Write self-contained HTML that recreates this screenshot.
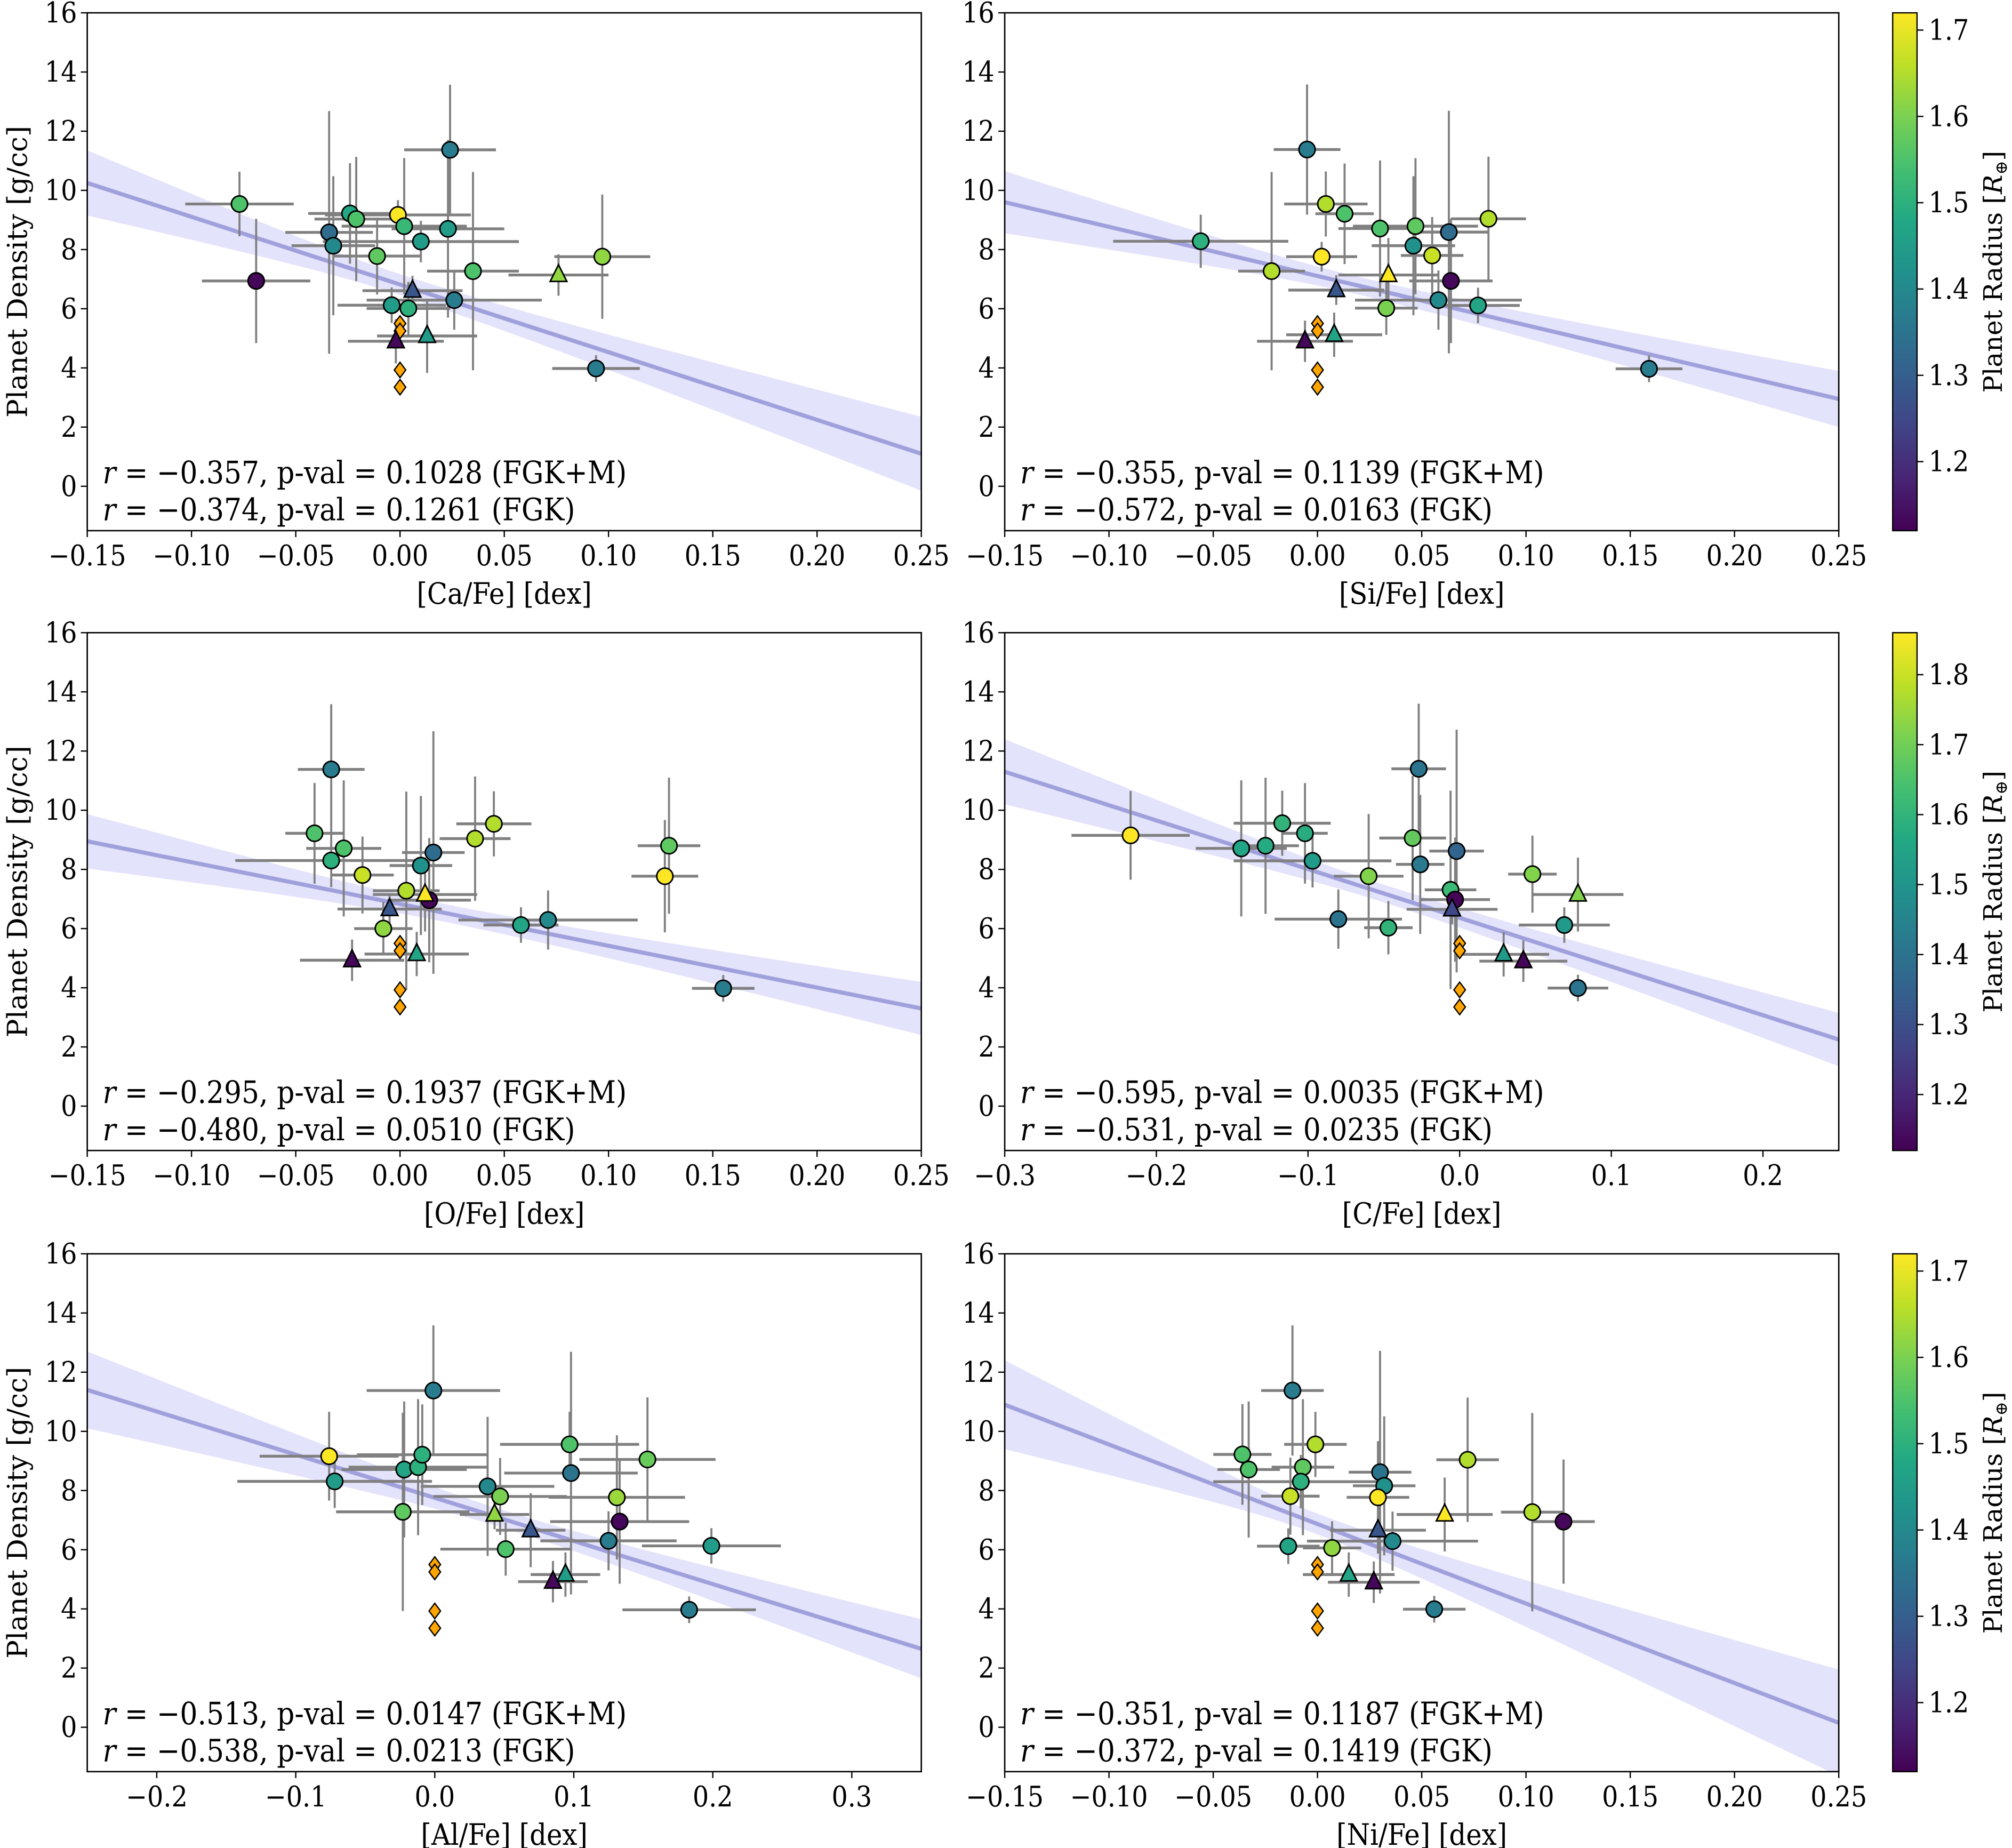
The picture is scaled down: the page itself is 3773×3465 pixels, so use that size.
<!DOCTYPE html>
<html><head><meta charset="utf-8"><style>html,body{margin:0;padding:0;background:#fff}svg{display:block}</style></head>
<body>
<svg id="fig" xmlns="http://www.w3.org/2000/svg" width="3773" height="3465" viewBox="0 0 1568 1440">
<rect x="0" y="0" width="1568" height="1440" fill="#fff"/>
</svg>
<script>
// ---------- DATA ----------
const caX=[-0.077,-0.069,-0.034,-0.032,-0.024,-0.021,-0.011,-0.001,0.002,0.010,0.023,0.024,0.026,0.035,-0.004,0.004,0.097,0.094];
const caY=[9.54,6.94,8.58,8.13,9.22,9.03,7.78,9.17,8.79,8.27,8.70,11.37,6.29,7.27,6.12,6.01,7.76,3.98];
const caXe=[0.026,0.026,0.021,0.02,0.02,0.02,0.021,0.035,0.03,0.047,0.027,0.022,0.042,0.022,0.026,0.02,0.023,0.021];
const caYe=[1.09,2.1,4.1,2.35,1.7,2.1,1.3,0.5,2.3,0.7,3.0,2.2,1.0,3.35,0.6,0.9,2.1,0.45];
const caR=[1.55,1.13,1.33,1.40,1.48,1.55,1.57,1.72,1.52,1.45,1.45,1.37,1.37,1.55,1.45,1.5,1.62,1.37];
const caTX=[0.006,0.013,-0.002,0.076], caTY=[6.61,5.08,4.9,7.14], caTXe=[0.024,0.024,0.023,0.024], caTR=[1.28,1.45,1.13,1.62];

const siX=[-0.005,0.004,0.013,0.03,0.047,0.063,0.082,0.046,0.055,-0.056,0.002,-0.022,0.064,0.058,0.077,0.033,0.159];
const siY=[11.38,9.54,9.21,8.71,8.79,8.59,9.04,8.13,7.8,8.28,7.76,7.27,6.94,6.29,6.11,6.02,3.97];
const siXe=[0.016,0.02,0.014,0.02,0.03,0.019,0.018,0.02,0.015,0.042,0.017,0.016,0.02,0.04,0.02,0.015,0.016];
const siYe=[2.2,1.1,1.7,2.3,2.3,4.1,2.1,2.35,1.3,0.9,0.5,3.35,2.1,1.0,0.6,0.9,0.45];
const siR=[1.37,1.65,1.55,1.55,1.57,1.33,1.65,1.42,1.67,1.5,1.72,1.65,1.13,1.40,1.47,1.6,1.37];
const siTX=[0.009,0.034,0.008,-0.006], siTY=[6.63,7.14,5.12,4.9], siTXe=[0.023,0.024,0.023,0.023], siTR=[1.28,1.72,1.47,1.13];

const oX=[-0.033,-0.041,-0.027,-0.033,-0.018,0.045,0.036,0.016,0.010,0.003,0.014,-0.008,0.058,0.071,0.129,0.127,0.155];
const oY=[11.38,9.22,8.71,8.3,7.81,9.54,9.04,8.57,8.13,7.28,6.96,6.0,6.12,6.29,8.8,7.77,3.98];
const oXe=[0.016,0.014,0.018,0.046,0.015,0.018,0.017,0.015,0.015,0.016,0.02,0.014,0.018,0.043,0.015,0.016,0.015];
const oYe=[2.2,1.7,2.3,0.9,1.3,1.1,2.1,4.1,2.35,3.35,2.1,0.9,0.6,1.0,2.3,1.9,0.45];
const oR=[1.37,1.55,1.55,1.5,1.67,1.65,1.65,1.33,1.42,1.65,1.13,1.62,1.47,1.40,1.57,1.72,1.37];
const oTX=[-0.005,0.012,0.008,-0.023], oTY=[6.66,7.15,5.14,4.93], oTXe=[0.025,0.025,0.025,0.025], oTR=[1.28,1.72,1.47,1.13];

const cX=[-0.217,-0.144,-0.128,-0.117,-0.102,-0.097,-0.06,-0.08,-0.047,-0.031,-0.027,-0.026,-0.002,-0.006,-0.003,0.048,0.069,0.078];
const cY=[9.15,8.71,8.8,9.56,9.22,8.29,7.77,6.32,6.03,9.06,11.4,8.17,8.62,7.31,6.98,7.84,6.12,3.99];
const cXe=[0.039,0.03,0.022,0.032,0.015,0.052,0.023,0.042,0.016,0.022,0.018,0.016,0.018,0.017,0.023,0.016,0.03,0.02];
const cYe=[1.5,2.3,2.3,1.1,1.7,0.9,2.1,1.0,0.9,2.1,2.2,2.35,4.1,3.35,2.1,1.3,0.6,0.45];
const cR=[1.86,1.55,1.57,1.6,1.58,1.52,1.72,1.40,1.6,1.68,1.4,1.42,1.36,1.62,1.13,1.72,1.52,1.40];
const cTX=[-0.005,0.078,0.029,0.042], cTY=[6.65,7.15,5.13,4.9], cTXe=[0.03,0.03,0.03,0.029], cTR=[1.28,1.72,1.52,1.13];

const alX=[-0.076,-0.072,-0.022,-0.012,-0.009,-0.023,-0.001,0.038,0.047,0.051,0.097,0.098,0.153,0.131,0.133,0.125,0.199,0.183];
const alY=[9.16,8.31,8.71,8.79,9.21,7.28,11.38,8.14,7.8,6.02,9.56,8.59,9.05,7.77,6.95,6.3,6.13,3.97];
const alXe=[0.05,0.07,0.045,0.05,0.047,0.048,0.048,0.048,0.048,0.047,0.05,0.048,0.049,0.049,0.05,0.049,0.05,0.048];
const alYe=[1.5,0.9,2.3,2.3,1.7,3.35,2.2,2.35,1.3,0.9,1.1,4.1,2.1,2.1,2.1,1.0,0.6,0.45];
const alR=[1.72,1.45,1.47,1.5,1.5,1.57,1.37,1.40,1.6,1.55,1.55,1.35,1.58,1.63,1.13,1.37,1.45,1.37];
const alTX=[0.043,0.069,0.094,0.085], alTY=[7.19,6.66,5.16,4.92], alTXe=[0.025,0.025,0.025,0.025], alTR=[1.62,1.28,1.45,1.13];

const niX=[-0.012,-0.001,-0.036,-0.033,-0.007,-0.008,-0.013,0.03,0.032,0.029,0.072,0.103,0.118,0.036,-0.014,0.007,0.056];
const niY=[11.38,9.56,9.22,8.71,8.79,8.3,7.81,8.62,8.16,7.77,9.04,7.27,6.95,6.29,6.12,6.06,3.99];
const niXe=[0.015,0.015,0.014,0.015,0.015,0.042,0.014,0.015,0.015,0.015,0.015,0.015,0.015,0.041,0.015,0.014,0.015];
const niYe=[2.2,1.1,1.7,2.3,2.3,0.9,1.3,4.1,2.35,1.9,2.1,3.35,2.1,1.0,0.6,0.9,0.45];
const niR=[1.37,1.65,1.55,1.55,1.57,1.5,1.67,1.35,1.42,1.72,1.65,1.65,1.13,1.40,1.47,1.62,1.37];
const niTX=[0.029,0.061,0.015,0.027], niTY=[6.66,7.19,5.16,4.9], niTXe=[0.023,0.023,0.022,0.022], niTR=[1.28,1.72,1.47,1.13];

const triYe=[0.5,1.25,0.75,0.7];
const diamY=[5.5,5.25,3.93,3.35];
const xTicksA=[-0.15,-0.10,-0.05,0.00,0.05,0.10,0.15,0.20,0.25];
const xTicksC=[-0.3,-0.2,-0.1,0.0,0.1,0.2];
const xTicksAl=[-0.2,-0.1,0.0,0.1,0.2,0.3];
const yTicks=[0,2,4,6,8,10,12,14,16];
const cbTicksA=[1.2,1.3,1.4,1.5,1.6,1.7];
const cbTicksB=[1.2,1.3,1.4,1.5,1.6,1.7,1.8];

// ---------- RENDER ----------
const NS="http://www.w3.org/2000/svg";
const svg=document.getElementById('fig');
function mk(tag,attrs,parent){const e=document.createElementNS(NS,tag);for(const k in attrs)e.setAttribute(k,attrs[k]);(parent||svg).appendChild(e);return e;}
const vir=["#440154","#482475","#414487","#355f8d","#2a788e","#21918c","#22a884","#44bf70","#7ad151","#bddf26","#fde725"];
function hex(h){return [1,3,5].map(i=>parseInt(h.substr(i,2),16));}
function viridis(t){t=Math.max(0,Math.min(1,t));const f=t*10,i=Math.min(9,Math.floor(f)),u=f-i;const a=hex(vir[i]),b=hex(vir[i+1]);return 'rgb('+a.map((v,k)=>Math.round(v+(b[k]-v)*u)).join(',')+')';}

const colL=68,colR=783,W=650;
const rowsTop=[10,493,977],H=403.5;
const panels=[
 {name:'ca',lab:'[Ca/Fe] [dex]',x0:colL,y0:rowsTop[0],xl:[-0.15,0.25],xt:xTicksA,dec:2,X:caX,Y:caY,Xe:caXe,Ye:caYe,R:caR,TX:caTX,TY:caTY,TXe:caTXe,TR:caTR,fit:[10.25,1.1],hb:[1.1,0.35,1.25],xm:0.0,vmax:1.72,t1:'−0.357, p-val = 0.1028 (FGK+M)',t2:'−0.374, p-val = 0.1261 (FGK)'},
 {name:'si',lab:'[Si/Fe] [dex]',x0:colR,y0:rowsTop[0],xl:[-0.15,0.25],xt:xTicksA,dec:2,X:siX,Y:siY,Xe:siXe,Ye:siYe,R:siR,TX:siTX,TY:siTY,TXe:siTXe,TR:siTR,fit:[9.6,2.95],hb:[1.05,0.3,0.95],xm:0.02,vmax:1.72,t1:'−0.355, p-val = 0.1139 (FGK+M)',t2:'−0.572, p-val = 0.0163 (FGK)'},
 {name:'o',lab:'[O/Fe] [dex]',x0:colL,y0:rowsTop[1],xl:[-0.15,0.25],xt:xTicksA,dec:2,X:oX,Y:oY,Xe:oXe,Ye:oYe,R:oR,TX:oTX,TY:oTY,TXe:oTXe,TR:oTR,fit:[8.95,3.3],hb:[0.92,0.3,0.9],xm:0.02,vmax:1.72,t1:'−0.295, p-val = 0.1937 (FGK+M)',t2:'−0.480, p-val = 0.0510 (FGK)'},
 {name:'c',lab:'[C/Fe] [dex]',x0:colR,y0:rowsTop[1],xl:[-0.3,0.25],xt:xTicksC,dec:1,X:cX,Y:cY,Xe:cXe,Ye:cYe,R:cR,TX:cTX,TY:cTY,TXe:cTXe,TR:cTR,fit:[11.3,2.25],hb:[1.1,0.3,0.9],xm:-0.05,vmax:1.86,t1:'−0.595, p-val = 0.0035 (FGK+M)',t2:'−0.531, p-val = 0.0235 (FGK)'},
 {name:'al',lab:'[Al/Fe] [dex]',x0:colL,y0:rowsTop[2],xl:[-0.25,0.35],xt:xTicksAl,dec:1,X:alX,Y:alY,Xe:alXe,Ye:alYe,R:alR,TX:alTX,TY:alTY,TXe:alTXe,TR:alTR,fit:[11.4,2.65],hb:[1.3,0.3,1.0],xm:0.05,vmax:1.72,t1:'−0.513, p-val = 0.0147 (FGK+M)',t2:'−0.538, p-val = 0.0213 (FGK)'},
 {name:'ni',lab:'[Ni/Fe] [dex]',x0:colR,y0:rowsTop[2],xl:[-0.15,0.25],xt:xTicksA,dec:2,X:niX,Y:niY,Xe:niXe,Ye:niYe,R:niR,TX:niTX,TY:niTY,TXe:niTXe,TR:niTR,fit:[10.9,0.15],hb:[1.5,0.35,1.8],xm:0.0,vmax:1.72,t1:'−0.351, p-val = 0.1187 (FGK+M)',t2:'−0.372, p-val = 0.1419 (FGK)'}
];
const YMIN=-1.5,YMAX=16,VMIN=1.12;
const COND='"DejaVu Serif Condensed","DejaVu Serif","Liberation Serif",serif', SERIF='"DejaVu Serif","Liberation Serif",serif';
const FS=22;

panels.forEach((p,pi)=>{
 const sx=v=>p.x0+(v-p.xl[0])/(p.xl[1]-p.xl[0])*W;
 const sy=v=>p.y0+(YMAX-v)/(YMAX-YMIN)*H;
 const col=r=>viridis((r-VMIN)/(p.vmax-VMIN));
 const g=mk('g',{});
 
 
 const cp=mk('clipPath',{id:'cp'+pi},g);
 mk('rect',{x:p.x0,y:p.y0,width:W,height:H},cp);
 const plot=mk('g',{'clip-path':'url(#cp'+pi+')'},g);
 const xa=p.xl[0],xb=p.xl[1];
 const kL=(p.hb[0]**2-p.hb[1]**2)/((xa-p.xm)**2), kR=(p.hb[2]**2-p.hb[1]**2)/((xb-p.xm)**2);
 const fy=x=>p.fit[0]+(p.fit[1]-p.fit[0])*(x-xa)/(xb-xa);
 const hw=x=>Math.sqrt(p.hb[1]**2+(x<p.xm?kL:kR)*(x-p.xm)**2);
 let up=[],lo=[];
 for(let i=0;i<=60;i++){const x=xa+(xb-xa)*i/60;up.push(sx(x).toFixed(2)+','+sy(fy(x)+hw(x)).toFixed(2));lo.unshift(sx(x).toFixed(2)+','+sy(fy(x)-hw(x)).toFixed(2));}
 const band=mk('polygon',{points:up.concat(lo).join(' '),fill:'#e3e3fb'},plot);
 
 
 const fl=mk('line',{x1:sx(xa),y1:sy(p.fit[0]),x2:sx(xb),y2:sy(p.fit[1]),stroke:'#a0a0dc','stroke-width':3.2},plot);
 
 
 const eb=mk('g',{stroke:'#808080'},plot);
 p.X.forEach((x,i)=>{
  mk('line',{x1:sx(x-p.Xe[i]),x2:sx(x+p.Xe[i]),y1:sy(p.Y[i]),y2:sy(p.Y[i]),'stroke-width':2.2},eb);
  mk('line',{x1:sx(x),x2:sx(x),y1:sy(p.Y[i]-p.Ye[i]),y2:sy(p.Y[i]+p.Ye[i]),'stroke-width':1.6},eb);
 });
 p.TX.forEach((x,i)=>{
  mk('line',{x1:sx(x-p.TXe[i]),x2:sx(x+p.TXe[i]),y1:sy(p.TY[i]),y2:sy(p.TY[i]),'stroke-width':2.2},eb);
  mk('line',{x1:sx(x),x2:sx(x),y1:sy(p.TY[i]-triYe[i]),y2:sy(p.TY[i]+triYe[i]),'stroke-width':1.6},eb);
 });
 diamY.forEach(y=>{const cx=sx(0),cy=sy(y);
  const d=mk('polygon',{points:`${cx},${cy-6} ${cx+4.5},${cy} ${cx},${cy+6} ${cx-4.5},${cy}`,fill:'#ffa500',stroke:'#000','stroke-width':1},plot);
  
  });
 p.X.forEach((x,i)=>{
  const c=mk('circle',{cx:sx(x),cy:sy(p.Y[i]),r:6.3,fill:col(p.R[i]),stroke:'#000','stroke-width':1.2},plot);
  
  
 });
 p.TX.forEach((x,i)=>{const cx=sx(x),cy=sy(p.TY[i]);
  const t=mk('polygon',{points:`${cx},${cy-8} ${cx+6.5},${cy+5} ${cx-6.5},${cy+5}`,fill:col(p.TR[i]),stroke:'#000','stroke-width':1.2},plot);
  
  });
 const fr=mk('rect',{x:p.x0,y:p.y0,width:W,height:H,fill:'none',stroke:'#000','stroke-width':1.1},g);
 
 
 yTicks.forEach(t=>{const y=sy(t);
  mk('line',{x1:p.x0-5,x2:p.x0,y1:y,y2:y,stroke:'#000','stroke-width':1},g);
  const tl=mk('text',{x:p.x0-8,y:y+7.5,'text-anchor':'end','font-family':COND,'font-stretch':'condensed','font-size':FS},g);tl.textContent=t;
  
  });
 p.xt.forEach(t=>{const x=sx(t);
  mk('line',{x1:x,x2:x,y1:p.y0+H,y2:p.y0+H+5,stroke:'#000','stroke-width':1},g);
  const tl=mk('text',{x:x,y:p.y0+H+27,'text-anchor':'middle','font-family':COND,'font-stretch':'condensed','font-size':FS},g);
  tl.textContent=(t<0?'−':'')+Math.abs(t).toFixed(p.dec);
  
  });
 const xl=mk('text',{x:p.x0+W/2,y:p.y0+H+57,'text-anchor':'middle','font-family':COND,'font-stretch':'condensed','font-size':23},g);
 xl.textContent=p.lab;
 
 
 if(p.x0===colL){
  const yl=mk('text',{x:0,y:0,transform:`translate(21,${p.y0+H/2}) rotate(-90)`,'text-anchor':'middle','font-family':SERIF,'font-size':21.5},g);
  yl.textContent='Planet Density [g/cc]';
  
  
 }
 [p.t1,p.t2].forEach((s,k)=>{
  const tx=mk('text',{x:p.x0+12,y:p.y0+H-37+k*29,'font-family':COND,'font-stretch':'condensed','font-size':24},g);
  const it=mk('tspan',{'font-style':'italic'},tx);it.textContent='r';
  const rest=mk('tspan',{},tx);rest.textContent=' = '+s;
  
  
 });
});

[[rowsTop[0],1.72,cbTicksA],[rowsTop[1],1.86,cbTicksB],[rowsTop[2],1.72,cbTicksA]].forEach((cb,ci)=>{
 const [y0,vmax,ticks]=cb;const x0=1475,w=19;
 const g=mk('g',{});
 
 
 const gid='cbg'+ci;
 const lg=mk('linearGradient',{id:gid,x1:0,y1:1,x2:0,y2:0},g);
 vir.forEach((c,i)=>mk('stop',{offset:(i/10),'stop-color':c},lg));
 mk('rect',{x:x0,y:y0,width:w,height:H,fill:'url(#'+gid+')',stroke:'#000','stroke-width':1},g);
 const sy=v=>y0+(vmax-v)/(vmax-VMIN)*H;
 ticks.forEach(t=>{const y=sy(t);
  mk('line',{x1:x0+w,x2:x0+w+5,y1:y,y2:y,stroke:'#000','stroke-width':1},g);
  const tl=mk('text',{x:x0+w+9,y:y+7.5,'font-family':COND,'font-stretch':'condensed','font-size':FS},g);tl.textContent=t.toFixed(1);
  
  });
 const lab=mk('text',{x:0,y:0,transform:`translate(1560,${y0+H/2}) rotate(-90)`,'text-anchor':'middle','font-family':SERIF,'font-size':20},g);
 const a=mk('tspan',{},lab);a.textContent='Planet Radius [';
 const b=mk('tspan',{'font-style':'italic'},lab);b.textContent='R';
 const c=mk('tspan',{'font-size':13,dy:4},lab);c.textContent='⊕';
 const d=mk('tspan',{dy:-4},lab);d.textContent=']';
 
 
});
</script>
</body></html>
